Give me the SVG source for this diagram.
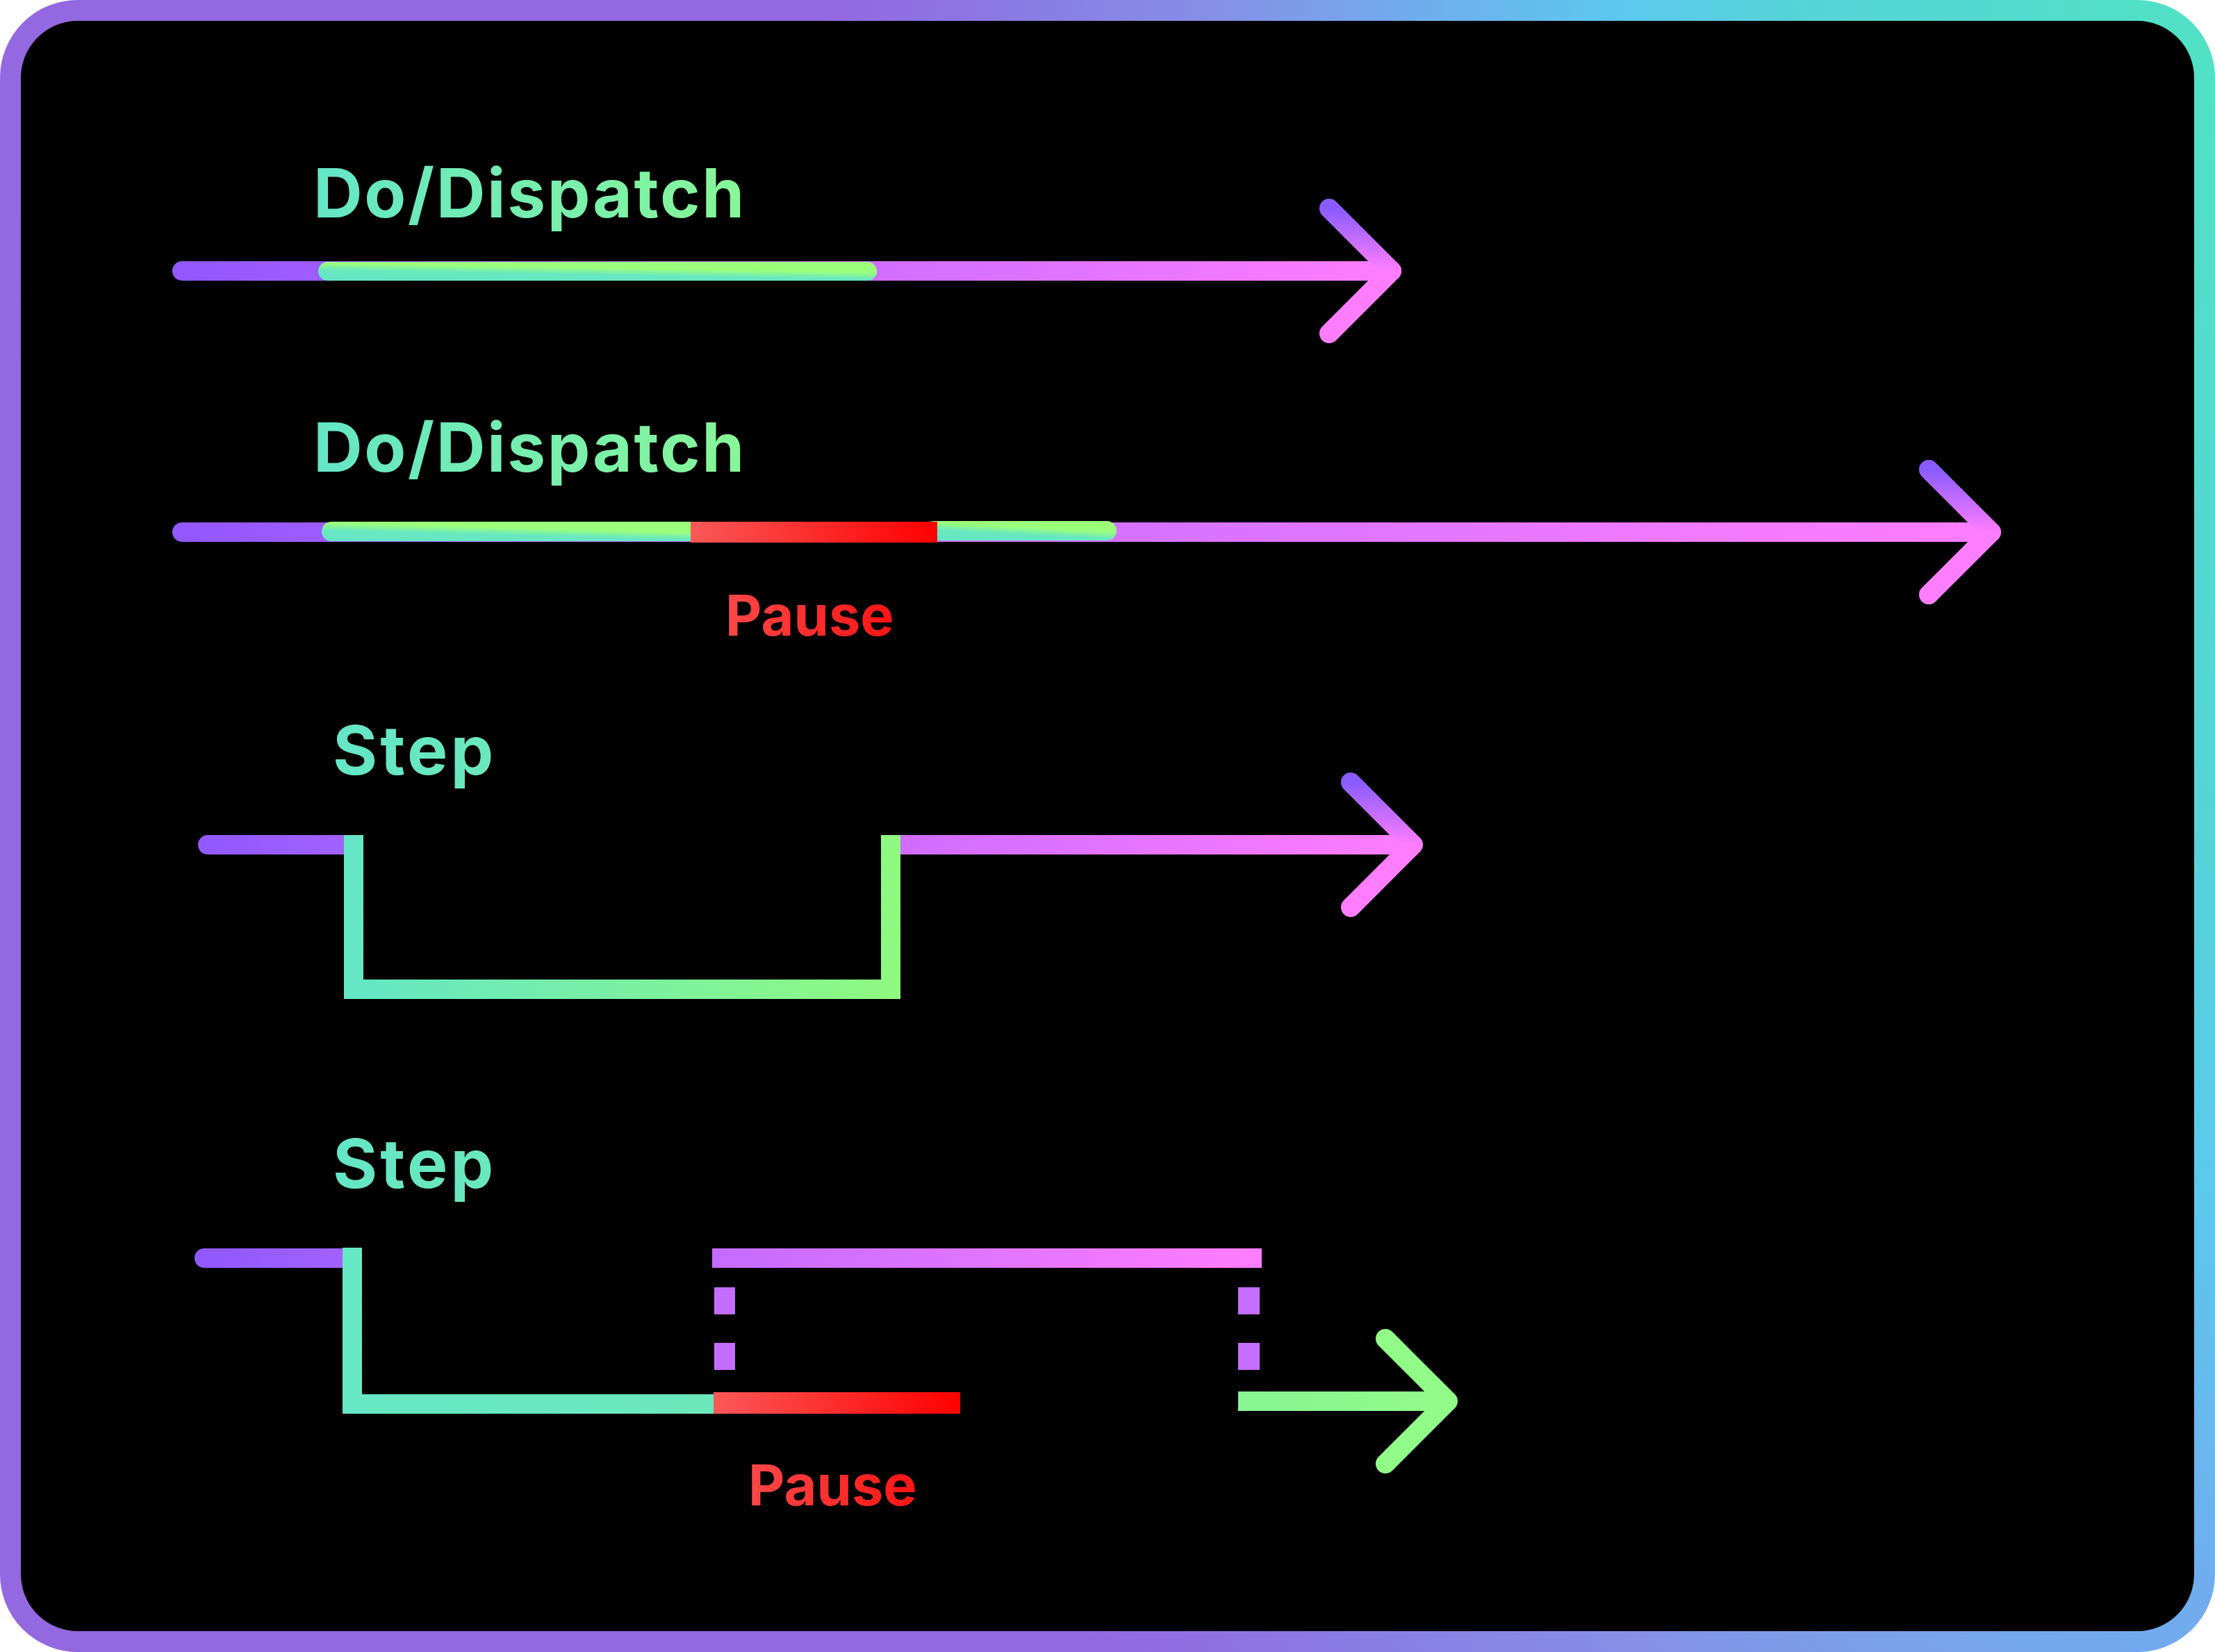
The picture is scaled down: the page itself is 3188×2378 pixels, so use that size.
<svg xmlns="http://www.w3.org/2000/svg" width="3188" height="2378" viewBox="0 0 3188 2378">
  <style>
    .title { font-family: Inter, "Noto Sans", "Liberation Sans", sans-serif; font-weight: 700; font-size: 98px; letter-spacing: 2.6px; }
    .step { font-family: Inter, "Noto Sans", "Liberation Sans", sans-serif; font-weight: 700; font-size: 98px; letter-spacing: 4px; }
    .pause { font-family: Inter, "Noto Sans", "Liberation Sans", sans-serif; font-weight: 700; font-size: 81px; fill: url(#pauseText); }
    .head { fill: none; stroke-width: 28; stroke-linecap: round; stroke-linejoin: round; }
    .bar { fill: none; stroke-width: 28; stroke-linecap: butt; stroke-linejoin: miter; }
  </style>
  <defs>
    <radialGradient id="frame" gradientUnits="userSpaceOnUse" cx="3188" cy="0" r="2000" gradientTransform="translate(3188 0) scale(1 2) translate(-3188 0)">
      <stop offset="0" stop-color="#50e2c4"/>
      <stop offset="0.3" stop-color="#56d4d8"/>
      <stop offset="0.43" stop-color="#5cc8ee"/>
      <stop offset="0.6" stop-color="#74a8ee"/>
      <stop offset="0.72" stop-color="#8590e6"/>
      <stop offset="0.88" stop-color="#8b78e3"/>
      <stop offset="1" stop-color="#9468e0"/>
    </radialGradient>
    <linearGradient id="titleText" x1="0" y1="0" x2="1" y2="0">
      <stop offset="0" stop-color="#64e6c6"/>
      <stop offset="1" stop-color="#88f698"/>
    </linearGradient>
    <linearGradient id="stepText" x1="0" y1="0" x2="1" y2="0">
      <stop offset="0" stop-color="#64e6c6"/>
      <stop offset="1" stop-color="#6ae8bc"/>
    </linearGradient>
    <linearGradient id="pauseText" x1="0" y1="0" x2="1" y2="0">
      <stop offset="0" stop-color="#ff4848"/>
      <stop offset="1" stop-color="#ff1414"/>
    </linearGradient>
    <linearGradient id="seg" x1="0" y1="1" x2="0.5" y2="0">
      <stop offset="0" stop-color="#64e6c6"/>
      <stop offset="0.45" stop-color="#68e8c0"/>
      <stop offset="0.75" stop-color="#9cff7c"/>
      <stop offset="1" stop-color="#9cff7c"/>
    </linearGradient>
    <linearGradient id="red" x1="0" y1="0" x2="1" y2="0">
      <stop offset="0" stop-color="#fa5858"/>
      <stop offset="1" stop-color="#ff0000"/>
    </linearGradient>
    <linearGradient id="head" x1="0" y1="0" x2="0" y2="1">
      <stop offset="0" stop-color="#8a5cff"/>
      <stop offset="0.5" stop-color="#ff7dff"/>
      <stop offset="1" stop-color="#ff7dff"/>
    </linearGradient>
    <linearGradient id="line1" gradientUnits="userSpaceOnUse" x1="248" y1="0" x2="2017" y2="0">
      <stop offset="0" stop-color="#9257ff"/>
      <stop offset="1" stop-color="#ff7eff"/>
    </linearGradient>
    <linearGradient id="line2" gradientUnits="userSpaceOnUse" x1="248" y1="0" x2="2880" y2="0">
      <stop offset="0" stop-color="#9257ff"/>
      <stop offset="0.45" stop-color="#d070ff"/>
      <stop offset="1" stop-color="#ff7eff"/>
    </linearGradient>
    <linearGradient id="purpleL" gradientUnits="userSpaceOnUse" x1="280" y1="0" x2="510" y2="0">
      <stop offset="0" stop-color="#9058ff"/>
      <stop offset="1" stop-color="#a262ff"/>
    </linearGradient>
    <linearGradient id="line3R" gradientUnits="userSpaceOnUse" x1="1296" y1="0" x2="2048" y2="0">
      <stop offset="0" stop-color="#d06cff"/>
      <stop offset="1" stop-color="#ff7eff"/>
    </linearGradient>
    <linearGradient id="step3" gradientUnits="userSpaceOnUse" x1="495" y1="0" x2="1296" y2="0">
      <stop offset="0" stop-color="#64e6c6"/>
      <stop offset="1" stop-color="#90fa80"/>
    </linearGradient>
    <linearGradient id="step4" gradientUnits="userSpaceOnUse" x1="493" y1="0" x2="1027" y2="0">
      <stop offset="0" stop-color="#66e8c4"/>
      <stop offset="1" stop-color="#6ce8bc"/>
    </linearGradient>
    <linearGradient id="top4" gradientUnits="userSpaceOnUse" x1="1025" y1="0" x2="1816" y2="0">
      <stop offset="0" stop-color="#c46cff"/>
      <stop offset="1" stop-color="#ff7dff"/>
    </linearGradient>
    <linearGradient id="green4" gradientUnits="userSpaceOnUse" x1="1782" y1="0" x2="2098" y2="0">
      <stop offset="0" stop-color="#88f494"/>
      <stop offset="1" stop-color="#92fc88"/>
    </linearGradient>
  </defs>

  <rect x="0" y="0" width="3188" height="2378" fill="#ffffff"/>
  <rect id="frame-box" x="15" y="15" width="3158" height="2348" rx="97" ry="97" fill="#000000" stroke="url(#frame)" stroke-width="30"/>

  <g id="labels">
    <text id="label-do1" class="title" x="451" y="313" fill="url(#titleText)">Do/Dispatch</text>
    <text id="label-do2" class="title" x="451" y="679" fill="url(#titleText)">Do/Dispatch</text>
    <text id="label-pause1" class="pause" x="1044" y="915">Pause</text>
    <text id="label-step1" class="step" x="479" y="1115" fill="url(#stepText)">Step</text>
    <text id="label-step2" class="step" x="479" y="1710" fill="url(#stepText)">Step</text>
    <text id="label-pause2" class="pause" x="1077" y="2167">Pause</text>
  </g>

  <g id="connectors">
    <!-- Row 1: Do/Dispatch -->
    <g id="row1">
      <line x1="262" y1="390" x2="2003" y2="390" stroke="url(#line1)" stroke-width="28" stroke-linecap="round"/>
      <rect x="458" y="377" width="804" height="27" rx="13.5" fill="url(#seg)"/>
      <path class="head" d="M1913,300 L2003,390 L1913,480" stroke="url(#head)"/>
    </g>

    <!-- Row 2: Do/Dispatch with pause -->
    <g id="row2">
      <line x1="262" y1="766" x2="2866" y2="766" stroke="url(#line2)" stroke-width="28" stroke-linecap="round"/>
      <rect x="463" y="751" width="550" height="28" rx="14" fill="url(#seg)"/>
      <rect x="1330" y="750" width="277" height="28" rx="14" fill="url(#seg)"/>
      <rect x="994" y="751" width="355" height="30" fill="url(#red)"/>
      <path class="head" d="M2776,676 L2866,766 L2776,856" stroke="url(#head)"/>
    </g>

    <!-- Row 3: Step -->
    <g id="row3">
      <line x1="299" y1="1216" x2="500" y2="1216" stroke="url(#purpleL)" stroke-width="28" stroke-linecap="round"/>
      <line x1="1282" y1="1216" x2="2034" y2="1216" stroke="url(#line3R)" stroke-width="28"/>
      <path class="bar" d="M509,1202 V1424 H1282 V1202" stroke="url(#step3)"/>
      <path class="head" d="M1944,1126 L2034,1216 L1944,1306" stroke="url(#head)"/>
    </g>

    <!-- Row 4: Step with pause -->
    <g id="row4">
      <line x1="294" y1="1811" x2="500" y2="1811" stroke="url(#purpleL)" stroke-width="28" stroke-linecap="round"/>
      <path class="bar" d="M507,1796 V2021 H1027" stroke="url(#step4)"/>
      <rect x="1027" y="2004" width="355" height="31" fill="url(#red)"/>
      <rect x="1025" y="1797" width="791" height="28" fill="url(#top4)"/>
      <rect x="1028" y="1853" width="30" height="39" fill="#c46cff"/>
      <rect x="1028" y="1933" width="30" height="39" fill="#c46cff"/>
      <rect x="1782" y="1853" width="31" height="39" fill="#c66cff"/>
      <rect x="1782" y="1933" width="31" height="39" fill="#c66cff"/>
      <line x1="1782" y1="2017" x2="2084" y2="2017" stroke="url(#green4)" stroke-width="28"/>
      <path class="head" d="M1994,1927 L2084,2017 L1994,2107" stroke="#92fc88"/>
    </g>
  </g>
</svg>
